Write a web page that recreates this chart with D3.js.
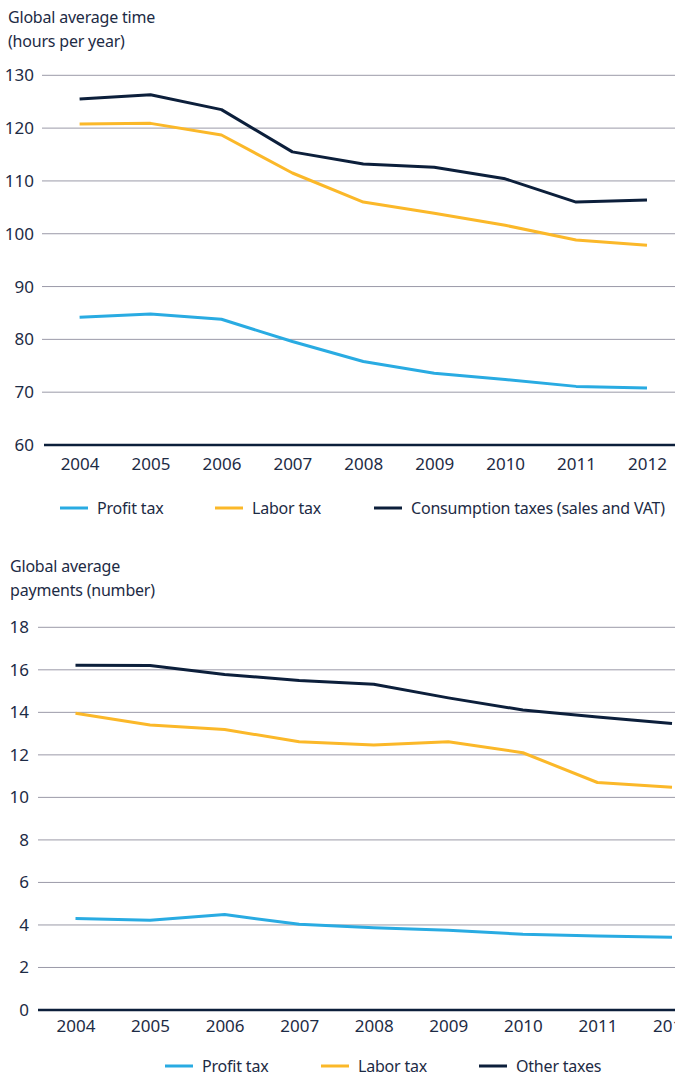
<!DOCTYPE html>
<html>
<head>
<meta charset="utf-8">
<script src="https://cdn.jsdelivr.net/npm/d3@7"></script>
<style>
  html, body { margin: 0; padding: 0; background: #ffffff; }
  svg { display: block; font-family: "Noto Sans", sans-serif; }
</style>
</head>
<body>
<svg id="chart" width="675" height="1076"></svg>
<script>
// Years shared by both panels
const years = ["2004", "2005", "2006", "2007", "2008", "2009", "2010", "2011", "2012"];

// Panel 1: time to comply (hours per year)
const timeProfit = [84.2, 84.8, 83.8, 79.6, 75.8, 73.6, 72.4, 71.1, 70.8];
const timeLabor = [120.8, 120.9, 118.7, 111.5, 106.0, 103.9, 101.6, 98.8, 97.8];
const timeConsumption = [125.5, 126.3, 123.5, 115.5, 113.2, 112.6, 110.4, 106.0, 106.4];
const timeTicks = [60, 70, 80, 90, 100, 110, 120, 130];

// Panel 2: number of payments
const payProfit = [4.30, 4.22, 4.49, 4.03, 3.87, 3.75, 3.56, 3.48, 3.42];
const payLabor = [13.96, 13.40, 13.19, 12.62, 12.46, 12.62, 12.10, 10.70, 10.48];
const payOther = [16.22, 16.20, 15.78, 15.50, 15.32, 14.68, 14.11, 13.78, 13.48];
const payTicks = [0, 2, 4, 6, 8, 10, 12, 14, 16, 18];

const colors = { profit: "#29abe2", labor: "#fbb829", other: "#0c1f3b" };
const textColor = "#1d2b45";
const gridColor = "#9b9aa8";

const svg = d3.select("#chart");

function panel(cfg) {
  const g = svg.append("g");
  const x = d3.scalePoint().domain(years).range(cfg.xRange);
  const y = d3.scaleLinear().domain(cfg.yDomain).range(cfg.yRange);

  // title
  cfg.title.forEach((t, i) => {
    g.append("text")
      .attr("x", cfg.titleX).attr("y", cfg.titleY + i * 24)
      .attr("fill", textColor).attr("font-size", 16)
      .attr("letter-spacing", -0.2)
      .text(t);
  });

  // value labels
  const yAxis = d3.axisLeft(y).tickValues(cfg.ticks).tickSize(0).tickPadding(0);
  const ga = g.append("g").attr("transform", `translate(${cfg.labelRight},0)`).call(yAxis);
  ga.select(".domain").remove();
  ga.selectAll("text").attr("fill", textColor).attr("font-size", 17)
    .attr("font-family", "Noto Sans, sans-serif");

  // horizontal grid
  g.append("g").selectAll("line")
    .data(cfg.ticks.slice(1))
    .join("line")
    .attr("x1", cfg.gridLeft).attr("x2", 675)
    .attr("y1", d => y(d)).attr("y2", d => y(d))
    .attr("stroke", gridColor).attr("stroke-width", 1);

  // baseline
  g.append("line")
    .attr("x1", cfg.baseLeft).attr("x2", 675)
    .attr("y1", y(cfg.yDomain[0])).attr("y2", y(cfg.yDomain[0]))
    .attr("stroke", colors.other).attr("stroke-width", 2.5);

  // year labels
  const xAxis = d3.axisBottom(x).tickSize(0).tickPadding(cfg.xLabelPad);
  const gx = g.append("g").attr("transform", `translate(0,${y(cfg.yDomain[0])})`).call(xAxis);
  gx.select(".domain").remove();
  gx.selectAll("text").attr("fill", textColor).attr("font-size", 17)
    .attr("font-family", "Noto Sans, sans-serif");

  // series lines
  const line = d3.line().x((d, i) => x(years[i])).y(d => y(d));
  cfg.series.forEach(s => {
    g.append("path")
      .datum(s.values)
      .attr("fill", "none")
      .attr("stroke", s.color)
      .attr("stroke-width", 3)
      .attr("stroke-linejoin", "round")
      .attr("d", line);
  });

  // legend
  cfg.series.forEach((s, i) => {
    const lx = cfg.legendX[i];
    g.append("line")
      .attr("x1", lx).attr("x2", lx + 28)
      .attr("y1", cfg.legendY).attr("y2", cfg.legendY)
      .attr("stroke", s.color).attr("stroke-width", 3);
    g.append("text")
      .attr("x", lx + 37).attr("y", cfg.legendY)
      .attr("dy", "0.35em")
      .attr("fill", textColor).attr("font-size", 16)
      .attr("letter-spacing", -0.2)
      .text(s.name);
  });
}

panel({
  title: ["Global average time", "(hours per year)"],
  titleX: 8, titleY: 23,
  xRange: [79.6, 647],
  yDomain: [60, 130], yRange: [445, 75.3],
  ticks: timeTicks,
  labelRight: 34, gridLeft: 42, baseLeft: 44,
  xLabelPad: 13,
  series: [
    { name: "Profit tax", values: timeProfit, color: colors.profit },
    { name: "Labor tax", values: timeLabor, color: colors.labor },
    { name: "Consumption taxes (sales and VAT)", values: timeConsumption, color: colors.other }
  ],
  legendX: [60, 215, 374], legendY: 508
});

panel({
  title: ["Global average", "payments (number)"],
  titleX: 10, titleY: 572,
  xRange: [75.5, 672],
  yDomain: [0, 18], yRange: [1010, 627.3],
  ticks: payTicks,
  labelRight: 29, gridLeft: 38, baseLeft: 38,
  xLabelPad: 10,
  series: [
    { name: "Profit tax", values: payProfit, color: colors.profit },
    { name: "Labor tax", values: payLabor, color: colors.labor },
    { name: "Other taxes", values: payOther, color: colors.other }
  ],
  legendX: [165, 321, 479], legendY: 1066
});
</script>
</body>
</html>
